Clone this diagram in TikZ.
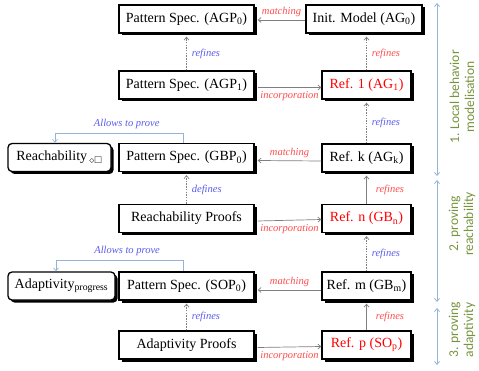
\documentclass[tikz,border=0pt]{standalone}
\usepackage{fontspec}
\usepackage{amssymb}
\setmainfont{Liberation Serif}
\newfontfamily\calfont{Carlito}
\usetikzlibrary{arrows.meta,shadows}
\definecolor{lred}{HTML}{FF4B4B}
\definecolor{lblue}{HTML}{5A5AF0}
\definecolor{sky}{HTML}{95B3D7}
\definecolor{olivegreen}{HTML}{77933C}
\definecolor{conngray}{HTML}{7F7F7F}
\begin{document}
\begin{tikzpicture}[x=1pt,y=-1pt,
 box/.style={draw, line width=1.3pt, fill=white, inner sep=0pt, minimum height=28pt,
   font=\fontsize{14}{16}\selectfont,
   drop shadow={shadow xshift=2.5pt,shadow yshift=-2.5pt,fill=black,opacity=1}},
 lbox/.style={box, minimum width=135pt},
 rbox/.style={box, minimum width=89pt},
 rnd/.style={box, rounded corners=4pt},
 conn/.style={draw=conngray, line width=0.7pt, -{Straight Barb[length=3pt,width=5pt]}},
 dotconn/.style={conn, dash pattern=on 1.5pt off 1.2pt},
 lab/.style={font=\fontsize{10.5}{12}\selectfont\itshape, inner sep=1pt},
 rlab/.style={lab, text=lred},
 blab/.style={lab, text=lblue},
 allow/.style={draw=sky, line width=0.7pt, -{Straight Barb[length=3pt,width=5pt]}},
 phase/.style={draw=sky, line width=0.8pt, {Straight Barb[length=3pt,width=5pt]}-{Straight Barb[length=3pt,width=5pt]}},
 phtxt/.style={font=\calfont\fontsize{13.5}{15}\selectfont, text=olivegreen, rotate=90, align=center},
]
\useasboundingbox (0,0) rectangle (479,371);

% left column
\node[lbox] (AGP0) at (186.5,19) {Pattern Spec. (AGP\textsubscript{0})};
\node[lbox] (AGP1) at (186.5,85) {Pattern Spec. (AGP\textsubscript{1})};
\node[lbox] (GBP0) at (186.5,157.5) {Pattern Spec. (GBP\textsubscript{0})};
\node[lbox] (RP) at (186.5,218.5) {Reachability Proofs};
\node[lbox] (SOP0) at (186.5,286) {Pattern Spec. (SOP\textsubscript{0})};
\node[lbox] (AP) at (186.5,345) {Adaptivity Proofs};

% right column
\node[box, minimum width=116pt] (Init) at (364,19) {Init. Model (AG\textsubscript{0})};
\node[rbox, text=red] (Ref1) at (366.5,85) {Ref. 1 (AG\textsubscript{1})};
\node[rbox] (Refk) at (366.5,158) {Ref. k (AG\textsubscript{k})};
\node[rbox, text=red] (Refn) at (366.5,218.5) {Ref. n (GB\textsubscript{n})};
\node[rbox] (Refm) at (366.5,286) {Ref. m (GB\textsubscript{m})};
\node[rbox, text=red] (Refp) at (366.5,345) {Ref. p (SO\textsubscript{p})};

% property boxes
\node[rnd, minimum width=103pt] (Reach) at (59.5,157.5) {Reachability\,$_{\diamond\Box}$};
\node[rnd, minimum width=107pt] (Adapt) at (61.5,286) {Adaptivity\textsubscript{progress}};

% horizontal connectors
\draw[conn] ([yshift=-1pt]Init.west) -- node[rlab, above=1.5pt]{matching} ([xshift=3pt,yshift=-1pt]AGP0.east);
\draw[conn] ([xshift=3pt,yshift=-2.5pt]AGP1.east) -- node[rlab, below=3pt]{incorporation} ([yshift=-2.5pt]Ref1.west);
\draw[conn] ([yshift=-3pt]Refk.west) -- node[rlab, above=2pt]{matching} ([xshift=3pt,yshift=-3pt]GBP0.east);
\draw[conn] ([xshift=3pt,yshift=-2.5pt]RP.east) -- node[rlab, below=3pt]{incorporation} ([yshift=-1pt]Refn.west);
\draw[conn] ([yshift=-4pt]Refm.west) -- node[rlab, above=2pt]{matching} ([xshift=3pt,yshift=-4pt]SOP0.east);
\draw[conn] ([xshift=3pt,yshift=-2.5pt]AP.east) -- node[rlab, below=3pt]{incorporation} ([yshift=-1.5pt]Refp.west);

% vertical connectors, left column
\draw[dotconn] (AGP1.north) -- node[blab, right=4pt]{refines} ([yshift=-3pt]AGP0.south);
\draw[dotconn] (RP.north) -- node[blab, right=4pt]{defines} ([yshift=-3pt]GBP0.south);
\draw[dotconn] (AP.north) -- node[blab, right=4pt]{refines} ([yshift=-3pt]SOP0.south);

% vertical connectors, right column
\draw[dotconn] (Ref1.north) -- node[rlab, right=4pt]{refines} ([yshift=-3pt]Ref1.north |- Init.south);
\draw[dotconn] (Refk.north) -- node[blab, right=4pt]{refines} ([yshift=-3pt]Ref1.south);
\draw[conn] (Refn.north) -- node[rlab, right=8pt]{refines} ([yshift=-3pt]Refk.south);
\draw[dotconn] (Refm.north) -- node[blab, right=4pt]{refines} ([yshift=-3pt]Refn.south);
\draw[conn] (Refp.north) -- node[rlab, right=8pt]{refines} ([yshift=-3pt]Refm.south);

% allows to prove
\coordinate (c1) at (55,133);
\coordinate (c2) at (56,260);
\draw[allow] ([xshift=-3.5pt]GBP0.north) |- node[blab, pos=0.72, above=3pt]{Allows to prove} (c1) -- (c1 |- Reach.north);
\draw[allow] ([xshift=-3.5pt]SOP0.north) |- node[blab, pos=0.72, above=3pt]{Allows to prove} (c2) -- (c2 |- Adapt.north);

% phases
\coordinate (p1a) at (437,3);
\coordinate (p1b) at (437,176);
\coordinate (p2a) at (437,180);
\coordinate (p2b) at (437,302);
\coordinate (p3a) at (437,308);
\coordinate (p3b) at (437,365);
\draw[phase] (p1a) -- (p1b);
\draw[phase] (p2a) -- (p2b);
\draw[phase] (p3a) -- (p3b);
\node[phtxt] (ph1) at (462,97) {1. Local behavior\\modelisation};
\node[phtxt] (ph2) at (462,224) {2. proving\\reachability};
\node[phtxt] (ph3) at (462,330) {3. proving\\adaptivity};
\end{tikzpicture}
\end{document}
